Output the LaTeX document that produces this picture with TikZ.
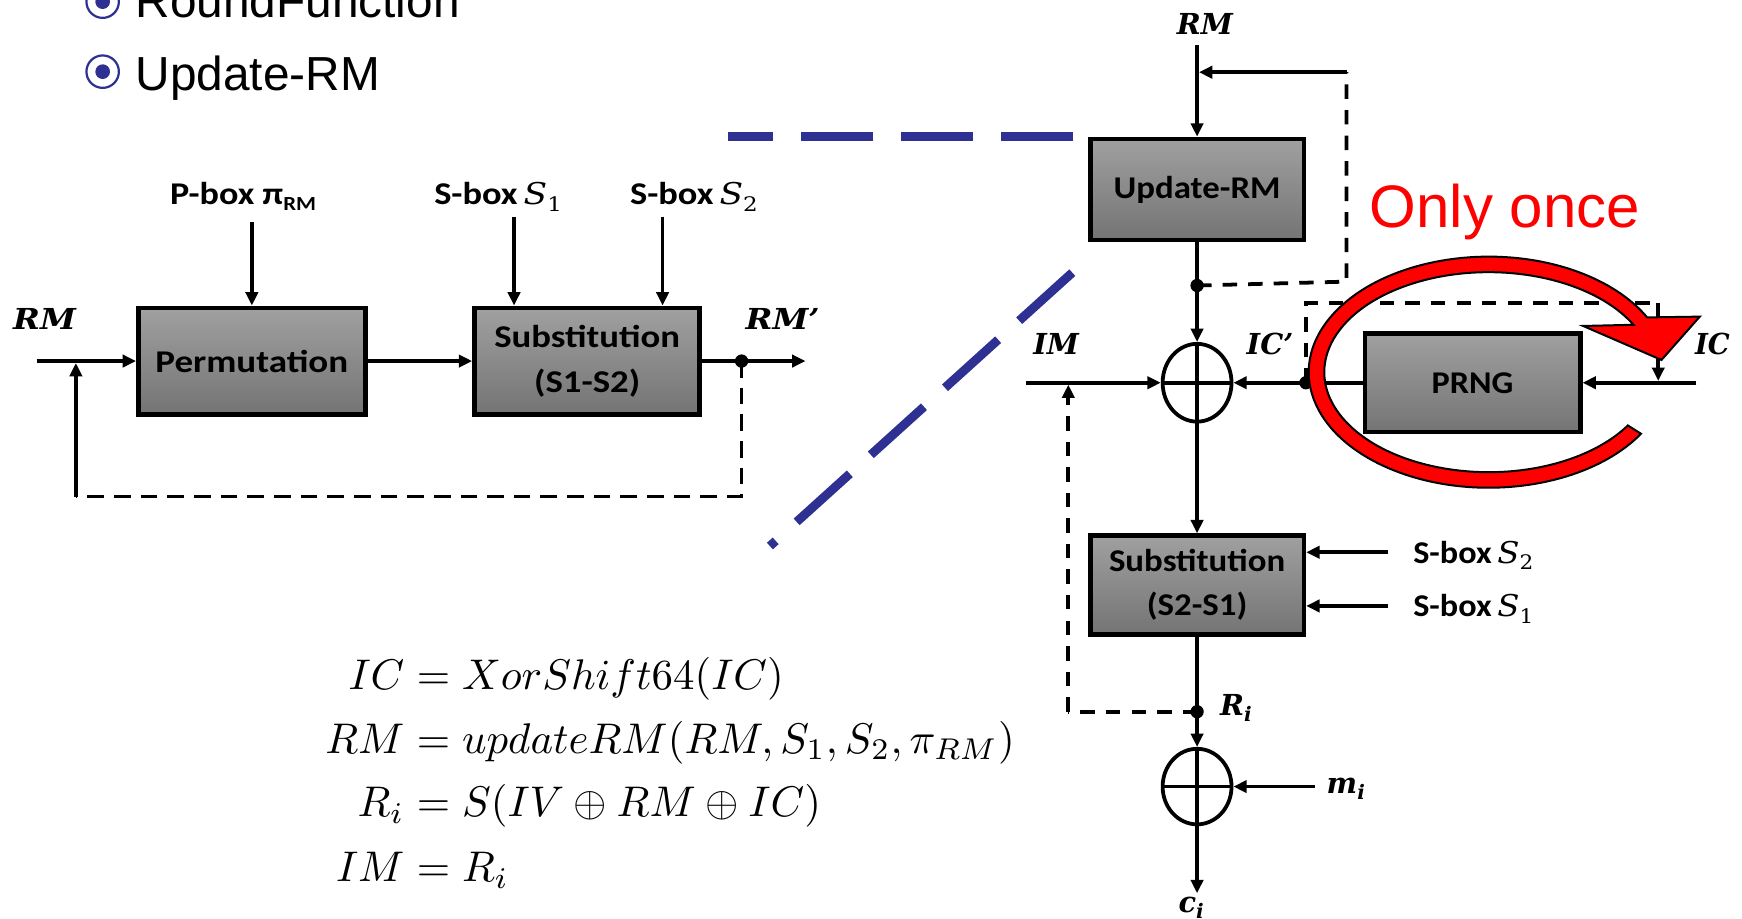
\documentclass[tikz,border=0pt]{standalone}
\usepackage{fontspec}
\usetikzlibrary{arrows.meta,calc,shapes.geometric}
\newfontfamily\carfont{Carlito}
\newfontfamily\serfont{DejaVu Serif}
\newfontfamily\slidefont{Liberation Sans}
\definecolor{slideblue}{RGB}{46,49,146}
\definecolor{boxtop}{RGB}{160,160,160}
\definecolor{boxbot}{RGB}{116,116,116}
\definecolor{onceRed}{RGB}{255,0,0}
% horizontally widened text
\newcommand\hw[2]{\scalebox{#1}[1]{#2}}
% lowered small subscript in the current family
\newcommand\lsub[1]{\raisebox{-6pt}{\fontsize{18}{18}\selectfont #1}}
% S-box symbol with an index
\newcommand\sbx[1]{{\serfont\mdseries\itshape\fontsize{27}{30}\selectfont S}{\serfont\mdseries\lsub{#1}}}
% enlarged display formula
\newcommand\eqbig[1]{\scalebox{3.86}{$#1$}}

\begin{document}
\begin{tikzpicture}[x=1pt,y=1pt,
  wire/.style={line width=3.4pt},
  arr/.style={wire,-{Triangle[length=12pt,width=11pt]}},
  dashL/.style={wire,dash pattern=on 15pt off 9pt},
  dashR/.style={wire,dash pattern=on 13pt off 10pt},
  blk/.style={draw,line width=4.2pt,top color=boxtop,bottom color=boxbot,inner sep=0pt,align=center},
  ltxt/.style={font=\carfont\bfseries\fontsize{28.5}{41}\selectfont},
  rtxt/.style={font=\carfont\bfseries\fontsize{28.5}{39.5}\selectfont},
  junction/.style={circle,fill,inner sep=0pt,minimum size=12pt},
  xorc/.style={ellipse,draw,line width=3.4pt,inner sep=0pt},
  mlab/.style={font=\serfont\bfseries\itshape\fontsize{26}{30}\selectfont,inner sep=0pt},
  eqn/.style={font=\fontsize{10}{12}\selectfont,inner sep=0pt},
  bluedash/.style={slideblue,line width=8pt,dash pattern=on 64.5pt off 25.5pt},
  bullettext/.style={font=\slidefont\fontsize{43}{43}\selectfont,inner sep=0pt,anchor=base west},
]
\useasboundingbox (0,0) rectangle (1568,-827);
\clip (0,0) rectangle (1568,-827);

% ---------- slide bullets ----------
\draw[slideblue,line width=2pt] (92.4,-1.5) circle (14.6);
\fill[slideblue] (92.4,-1.5) circle (6.6);
\node[bullettext] (b1) at (122,-15.6) {RoundFunction};
\draw[slideblue,line width=2pt] (92.4,-64.5) circle (14.6);
\fill[slideblue] (92.4,-64.5) circle (6.6);
\node[bullettext] (b2) at (122,-81.6) {Update-RM};

% ---------- Update-RM internals ----------
\node[mlab,anchor=base west] (rmL) at (11.7,-297) {\hw{1.12}{RM}};
\coordinate (inL) at (33,-325);
\node[blk,ltxt,minimum width=204.4pt,minimum height=95.8pt] (perm) at (226.7,-325) {\hw{1.17}{Permutation}};
\node[blk,ltxt,minimum width=202.8pt,minimum height=95.8pt] (sub1) at (528.5,-325)
  {\hw{1.16}{Substitution}\\\hw{1.16}{(S1-S2)}};

\node[ltxt,inner sep=0pt,anchor=base west] (pboxlab) at (153,-184.5)
  {\hw{1.14}{P-box π\raisebox{-5pt}{\fontsize{18}{18}\selectfont RM}}};
\node[ltxt,inner sep=0pt,anchor=base west] (s1lab) at (390.7,-184.5)
  {\hw{1.15}{S-box\,\sbx{1}}};
\node[ltxt,inner sep=0pt,anchor=base west] (s2lab) at (567,-184.5)
  {\hw{1.15}{S-box\,\sbx{2}}};

\coordinate (pbA) at (226.7,-199.5);
\coordinate (s1A) at (462.7,-195);
\coordinate (s2A) at (596.4,-195);
\draw[arr] (pbA) -- (perm.north);
\draw[arr] (s1A) -- (s1A |- sub1.north);
\draw[arr] (s2A) -- (s2A |- sub1.north);

\draw[arr] (inL) -- (perm.west);
\draw[arr] (perm.east) -- (sub1.west);
\coordinate (outL) at (725,-325);
\draw[arr] (sub1.east) -- (outL);
\node[junction] (jL) at (667.5,-325) {};
\node[mlab,anchor=base west] (rmpL) at (671,-297) {\hw{1.12}{RM’}};

\coordinate (fbR) at (667.5,-447);
\coordinate (fbL) at (68.3,-447);
\coordinate (fbTip) at (68.3,-326.7);
\draw[dashL] (jL.center) -- (fbR) -- (fbL);
\draw[arr] (fbL) -- (fbTip);

% ---------- zoom guide lines ----------
\coordinate (gA) at (965.5,-123);
\coordinate (gB) at (655,-123);
\coordinate (gC) at (965.2,-245.4);
\coordinate (gD) at (693,-491.5);
\draw[bluedash] (gA) -- (gB);
\draw[bluedash] (gC) -- (gD);

% ---------- round function ----------
\node[mlab,anchor=base] (rmR) at (1084.5,-31) {RM};
\coordinate (rmIn) at (1077.5,-40.5);
\node[blk,rtxt,minimum width=192.3pt,minimum height=90.8pt] (upd) at (1077.5,-170.5) {\hw{1.1}{Update-RM}};
\draw[arr] (rmIn) -- (upd.north);

\node[junction] (j1) at (1077.5,-257) {};
\coordinate (fbMid) at (1212,-253.5);
\coordinate (fbTop) at (1212,-65);
\coordinate (fbEnd) at (1079.2,-65);
\draw[dashR] (j1.center) -- (fbMid) -- (fbTop);
\draw[arr] (fbTop) -- (fbEnd);

\node[xorc,minimum width=62pt,minimum height=70pt] (x1) at (1077.5,-344.5) {};
\draw[wire] (x1.north) -- (x1.south) (x1.west) -- (x1.east);
\draw[arr] (upd.south) -- (x1.north);

\coordinate (imIn) at (923.7,-344.5);
\draw[arr] (imIn) -- (x1.west);
\node[mlab,anchor=base west] (imlab) at (930,-319.5) {IM};
\node[mlab,anchor=base west] (icplab) at (1122,-319.5) {IC’};

\node[blk,rtxt,minimum width=193.8pt,minimum height=88.8pt] (prng) at (1325.5,-344.5) {\hw{1.08}{PRNG}};
\node[junction] (j2) at (1175.5,-344.5) {};
\draw[arr] (prng.west) -- (x1.east);
\coordinate (icIn) at (1527,-344.5);
\draw[arr] (icIn) -- (prng.east);
\node[mlab,anchor=base west] (iclab) at (1525.6,-319.5) {\hw{0.95}{IC}};

\coordinate (icUp) at (1175.5,-273);
\coordinate (icOver) at (1492.6,-273);
\coordinate (icTip) at (1492.6,-342.8);
\draw[dashR] (j2.center) -- (icUp) -- (icOver);
\draw[arr,dash pattern=on 13pt off 10pt] (icOver) -- (icTip);

\node[blk,rtxt,minimum width=192.3pt,minimum height=88.8pt] (sub2) at (1077.5,-526.5)
  {\hw{1.1}{Substitution}\\\hw{1.1}{(S2-S1)}};
\draw[arr] (x1.south) -- (sub2.north);

\coordinate (sb2) at (1249.6,-497.1);
\coordinate (sb1) at (1249.6,-545.4);
\draw[arr] (sb2) -- (sb2 -| sub2.east);
\draw[arr] (sb1) -- (sb1 -| sub2.east);
\node[rtxt,inner sep=0pt,anchor=base west] (sb2lab) at (1272,-507)
  {\hw{1.08}{S-box\,\sbx{2}}};
\node[rtxt,inner sep=0pt,anchor=base west] (sb1lab) at (1272,-555)
  {\hw{1.08}{S-box\,\sbx{1}}};

\node[junction] (j3) at (1077.5,-640.6) {};
\draw[wire] (sub2.south) -- (j3.center);
\node[mlab,anchor=base west] (rilab) at (1098,-643.6) {R\lsub{i}};

\node[xorc,minimum width=62pt,minimum height=68pt] (x2) at (1077.5,-708) {};
\draw[wire] (x2.north) -- (x2.south) (x2.west) -- (x2.east);
\draw[arr] (j3.center) -- (x2.north);

\coordinate (imCorner) at (961.6,-640.6);
\coordinate (imTip) at (961.6,-346.2);
\draw[dashR] (j3.center) -- (imCorner);
\draw[arr,dash pattern=on 13pt off 10pt] (imCorner) -- (imTip);

\coordinate (miIn) at (1183.6,-708);
\draw[arr] (miIn) -- (x2.east);
\node[mlab,anchor=base west] (milab) at (1194,-714) {m\lsub{i}};

\coordinate (ciOut) at (1077.5,-804);
\draw[arr] (x2.south) -- (ciOut);
\node[mlab,anchor=base west] (cilab) at (1060.6,-821) {c\lsub{i}};

% ---------- "only once" marker around the PRNG ----------
\coordinate (rc) at (1340,-335);
\filldraw[fill=onceRed,draw=black,line width=1.8pt]
  ($(rc)+(-32.2:162 and 104)$)
  arc[start angle=-32.2,end angle=-331.7,x radius=162,y radius=104]
  -- (1530,-285) -- (1495.5,-324) -- (1425,-293.4)
  -- ($(rc)+(28.3:148 and 90)$)
  arc[start angle=-331.7,end angle=-32.2,x radius=148,y radius=90]
  -- cycle;
\node[font=\slidefont\fontsize{54}{54}\selectfont,text=onceRed,anchor=base,inner sep=0pt] (once) at (1354.5,-205) {Only once};

% ---------- equations ----------
\node[eqn,anchor=base east] (e1l) at (364.3,-621) {\eqbig{IC}};
\node[eqn,anchor=base west] (e1r) at (364.3,-621) {\eqbig{{}=XorShift64(IC)}};
\node[eqn,anchor=base east] (e2l) at (364.3,-678) {\eqbig{RM}};
\node[eqn,anchor=base west] (e2r) at (364.3,-678) {\eqbig{{}=updateRM(RM,S_1,S_2,\pi_{RM})}};
\node[eqn,anchor=base east] (e3l) at (364.3,-735) {\eqbig{R_i}};
\node[eqn,anchor=base west] (e3r) at (364.3,-735) {\eqbig{{}=S(IV\oplus RM\oplus IC)}};
\node[eqn,anchor=base east] (e4l) at (364.3,-793.6) {\eqbig{IM}};
\node[eqn,anchor=base west] (e4r) at (364.3,-793.6) {\eqbig{{}=R_i}};
\end{tikzpicture}
\end{document}
